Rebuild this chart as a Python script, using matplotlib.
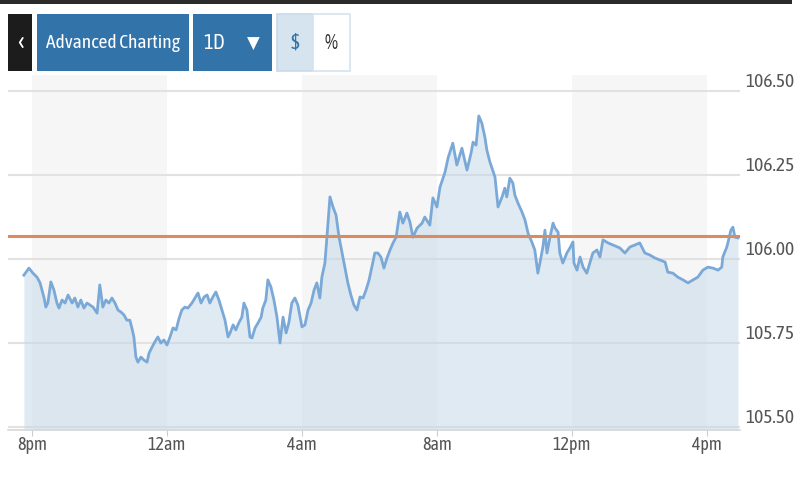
import numpy as np
import matplotlib.pyplot as plt
from matplotlib.patches import Rectangle

plt.rcParams["font.family"] = ["Asap Condensed", "DejaVu Sans"]

# hours after 8pm (previous evening) and price
hours = [-0.24, -0.09, 0.03, 0.15, 0.24, 0.36, 0.41, 0.47, 0.56, 0.65, 0.74, 0.80,
         0.89, 0.98, 1.07, 1.19, 1.27, 1.36, 1.45, 1.54, 1.63, 1.72, 1.81, 1.93,
         2.01, 2.10, 2.19, 2.28, 2.37, 2.46, 2.55, 2.64, 2.73, 2.81, 2.90, 2.96,
         3.02, 3.08, 3.14, 3.23, 3.32, 3.41, 3.47, 3.56, 3.64, 3.73, 3.82, 3.91,
         4.00, 4.09, 4.18, 4.27, 4.36, 4.44, 4.53, 4.62, 4.74, 4.83, 4.92, 5.01,
         5.10, 5.19, 5.27, 5.36, 5.45, 5.54, 5.63, 5.72, 5.81, 5.87, 5.96, 6.04,
         6.13, 6.22, 6.28, 6.37, 6.46, 6.52, 6.61, 6.70, 6.79, 6.84, 6.93, 6.99,
         7.08, 7.17, 7.26, 7.35, 7.44, 7.53, 7.61, 7.70, 7.79, 7.88, 8.00, 8.09,
         8.18, 8.27, 8.36, 8.44, 8.53, 8.59, 8.68, 8.74, 8.83, 8.92, 9.01, 9.10,
         9.19, 9.27, 9.36, 9.45, 9.54, 9.63, 9.72, 9.81, 9.90, 9.99, 10.07, 10.16,
         10.25, 10.34, 10.43, 10.52, 10.61, 10.70, 10.79,
         10.90, 10.99, 11.11, 11.20, 11.29, 11.41, 11.56, 11.64, 11.79, 11.88,
         12.00, 12.09, 12.24, 12.33, 12.47, 12.59, 12.74, 12.89, 13.01, 13.07,
         13.16, 13.24, 13.33, 13.42, 13.48, 13.57, 13.72, 13.81, 13.93, 14.01,
         14.07, 14.16, 14.25, 14.31, 14.40, 14.52, 14.61, 14.70, 14.81, 14.90,
         14.99, 15.05, 15.14, 15.20, 15.26, 15.35, 15.44, 15.50, 15.59, 15.64,
         15.73, 15.85, 15.94, 16.03, 16.06, 16.15, 16.24, 16.33, 16.44, 16.53,
         16.62, 16.74, 16.83, 16.92, 17.07, 17.21, 17.42, 17.57, 17.72, 17.87,
         18.01, 18.16, 18.31, 18.46, 18.61, 18.76, 18.84, 18.99, 19.14, 19.29,
         19.44, 19.59, 19.73, 19.88, 20.03, 20.18, 20.33, 20.44, 20.47, 20.59,
         20.62, 20.71, 20.77, 20.83, 20.92]
prices = [105.952, 105.973, 105.958, 105.946, 105.929, 105.884, 105.857, 105.869,
          105.932, 105.908, 105.869, 105.854, 105.878, 105.869, 105.893, 105.869,
          105.884, 105.857, 105.878, 105.854, 105.869, 105.863, 105.857, 105.839,
          105.923, 105.857, 105.878, 105.869, 105.884, 105.869, 105.848, 105.842,
          105.833, 105.818, 105.818, 105.795, 105.768, 105.708, 105.693, 105.708,
          105.699, 105.693, 105.720, 105.738, 105.753, 105.768, 105.750, 105.759,
          105.744, 105.768, 105.795, 105.789, 105.824, 105.848, 105.857, 105.854,
          105.869, 105.884, 105.899, 105.869, 105.887, 105.893, 105.869, 105.887,
          105.902, 105.878, 105.848, 105.818, 105.768, 105.780, 105.804, 105.789,
          105.810, 105.827, 105.869, 105.848, 105.768, 105.765, 105.795, 105.810,
          105.827, 105.854, 105.878, 105.938, 105.917, 105.878, 105.827, 105.750,
          105.827, 105.780, 105.810, 105.869, 105.884, 105.863, 105.798, 105.804,
          105.848, 105.869, 105.908, 105.929, 105.884, 105.946, 105.988, 106.065,
          106.185, 106.155, 106.131, 106.065, 106.018, 105.976, 105.929, 105.893,
          105.863, 105.848, 105.887, 105.884, 105.908, 105.938, 105.976, 106.018,
          106.018, 106.006, 105.973, 106.003, 106.027, 106.048, 106.065,
          106.140, 106.107, 106.137, 106.110, 106.065, 106.092, 106.107, 106.125,
          106.101, 106.182, 106.155, 106.214, 106.259, 106.301, 106.345, 106.280,
          106.330, 106.265, 106.315, 106.348, 106.339, 106.426, 106.405, 106.363,
          106.324, 106.289, 106.244, 106.155, 106.185, 106.211, 106.185, 106.241,
          106.226, 106.190, 106.167, 106.140, 106.116, 106.077, 106.051, 106.027,
          105.958, 105.988, 106.036, 106.086, 106.018, 106.065, 106.107, 106.092,
          106.080, 106.018, 105.988, 106.018, 106.033, 106.051, 105.988, 105.967,
          106.006, 105.976, 105.958, 105.988, 106.018, 106.027, 106.006, 106.057,
          106.048, 106.042, 106.033, 106.018, 106.036, 106.042, 106.048, 106.018,
          106.012, 106.003, 105.997, 105.991, 105.961, 105.958, 105.946, 105.938,
          105.929, 105.938, 105.946, 105.967, 105.976, 105.973, 105.967, 105.976,
          106.006, 106.036, 106.048, 106.086, 106.095, 106.065, 106.063]

prev_close = 106.07
y_ticks = [105.50, 105.75, 106.00, 106.25, 106.50]
x_ticks = [0, 4, 8, 12, 16, 20]
x_labels = ['8pm', '12am', '4am', '8am', '12pm', '4pm']
shaded = [(0, 4), (8, 12), (16, 20)]

BLUE = '#3273aa'


def box(fig, x0, y0, x1, y1, color, ec='none'):
    # pixel box, top-left origin
    fig.add_artist(Rectangle((x0 / 800, 1 - y1 / 500), (x1 - x0) / 800,
                             (y1 - y0) / 500, transform=fig.transFigure,
                             facecolor=color, edgecolor=ec, lw=1.2))


def label(fig, x, y, s, **kw):
    fig.text(x / 800, 1 - y / 500, s, ha='center', va='center', **kw)


def main():
    fig = plt.figure(figsize=(8, 5), dpi=100)
    ax = fig.add_axes([0.01, 0.14, 0.915, 0.71])

    for a, b in shaded:
        ax.axvspan(a, b, color='#f6f6f6', lw=0, zorder=0)

    for v in y_ticks:
        ax.axhline(v, color='#e2e2e2', lw=1.5, zorder=1)

    ax.fill_between(hours, prices, 105.0, color='#c3d7e7', alpha=0.5, lw=0, zorder=2)
    ax.plot(hours, prices, color='#7aa9d8', lw=2.0, zorder=3)
    ax.axhline(prev_close, color='#d98c62', lw=2.2, zorder=4)

    ax.set_xlim(-0.71, 20.98)
    ax.set_ylim(105.491, 106.548)

    ax.set_xticks(x_ticks)
    ax.set_xticklabels(x_labels)
    ax.set_yticks(y_ticks)
    ax.set_yticklabels(['%.2f' % v for v in y_ticks])
    ax.yaxis.tick_right()
    ax.tick_params(axis='y', length=0, pad=4, labelsize=14, labelcolor='#555555')
    ax.tick_params(axis='x', length=4, color='#cccccc', pad=0.5, labelsize=13,
                   labelcolor='#555555')
    for t in ax.get_yticklabels():
        t.set_verticalalignment('bottom')

    for s in ['top', 'left', 'right']:
        ax.spines[s].set_visible(False)
    ax.spines['bottom'].set_color('#d8d8d8')
    ax.spines['bottom'].set_linewidth(1.2)

    # top bar and buttons
    box(fig, 0, 0, 792, 4, '#2b2b2b')
    box(fig, 8, 14, 32, 71, '#1c1c1c')
    box(fig, 37, 14, 189, 71, BLUE)
    box(fig, 193, 14, 272, 71, BLUE)
    box(fig, 277, 14, 313, 71, '#d6e4ef', ec='#c9dae8')
    box(fig, 313, 14, 350, 71, 'white', ec='#d6e4ef')

    label(fig, 20, 43, '‹', color='white', fontsize=20)
    label(fig, 113, 43, 'Advanced Charting', color='white', fontsize=14)
    label(fig, 214, 43, '1D', color='white', fontsize=15)
    label(fig, 253, 44, '▼', color='white', fontsize=12, family='DejaVu Sans')
    label(fig, 295, 43, '$', color=BLUE, fontsize=15)
    label(fig, 331, 43, '%', color='#333333', fontsize=15)

    plt.savefig('out.png', dpi=100)


if __name__ == "__main__":
    main()
